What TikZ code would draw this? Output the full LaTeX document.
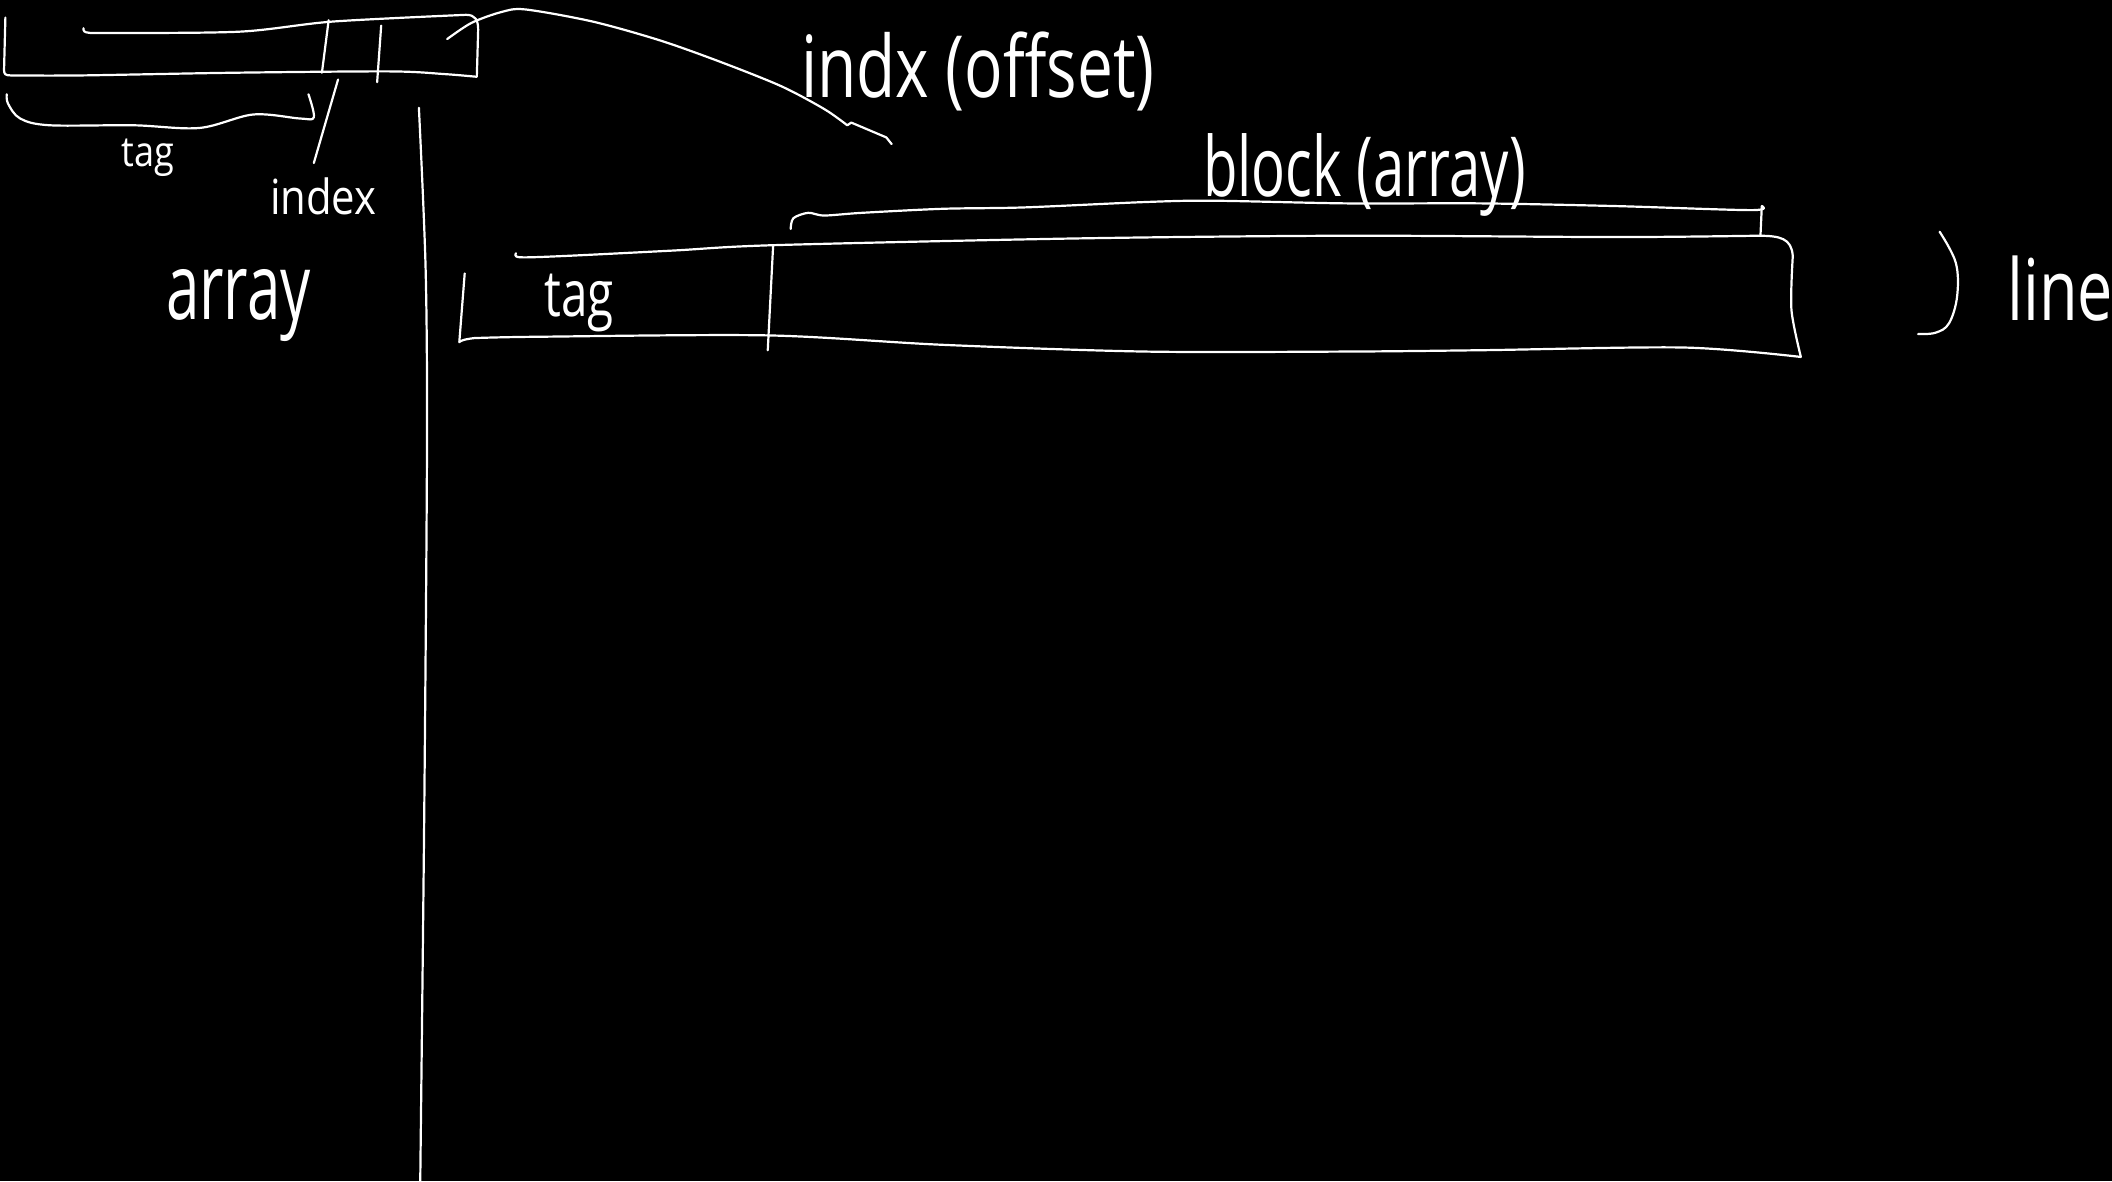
\documentclass[tikz,border=0pt]{standalone}
\usepackage{fontspec}
\setmainfont{Open Sans}
\begin{document}
\begin{tikzpicture}[x=0.6735pt,y=-0.6735pt,
  ink/.style={draw=white,line width=1.1pt,line cap=round,line join=round},
  hand/.style={text=white,inner sep=0pt,anchor=center}]
% chalkboard
\fill[black] (0,0) rectangle (1568,877);
\useasboundingbox (0,0) rectangle (1568,877);

% ---- address record: tag | index | offset ----
\draw[ink] plot[smooth,tension=0.5] coordinates {(62,21) (64,24) (80,24.5) (178,23.5) (247,16) (346,11)}
  .. controls (353,11) and (355,15) .. (355,22) -- (354,57)
  plot[smooth,tension=0.5] coordinates {(354,57) (330,55) (289,53) (173,54) (60,56) (8,56)}
  .. controls (4,56) and (3,55) .. (3,52) -- (4,13);
\draw[ink] (244,15) -- (239,54);
\draw[ink] (283,19) -- (280,61);
\coordinate (offsrc) at (332,29);
\coordinate (tagsep) at (251,59);

% brace under the tag bits
\draw[ink] plot[smooth,tension=0.55] coordinates {(5,70) (6,77) (15,88) (37,93) (99,93) (148,95) (188,85) (223,88) (233,87) (229,70)};
\node[hand,font=\fontsize{19}{22}\selectfont] (tagtop) at (110,117) {\scalebox{0.95}[1.1]{tag}};

% pointer to the index bits
\node[hand,font=\fontsize{22}{26}\selectfont] (idx) at (240,146) {\scalebox{0.95}[1.1]{index}};
\coordinate (idxend) at (233,121);
\draw[ink] (tagsep) -- (idxend);

% pointer to the offset bits
\node[hand,font=\fontsize{39}{44}\selectfont] (offs) at (726,53) {\scalebox{0.82}[1.1]{indx (offset)}};
\coordinate (offend) at (662,107);
\draw[ink] plot[smooth,tension=0.5] coordinates {(offsrc) (350,17) (372,9) (390,7) (440,16) (490,30) (535,46) (580,64) (612,81) (629,93)}
  -- (632,91) -- (658,102) -- (offend);

% ---- array label and divider ----
\node[hand,font=\fontsize{40}{44}\selectfont] (arr) at (177,227) {\scalebox{0.75}[1.15]{array}};
\draw[ink] plot[smooth,tension=0.5] coordinates {(311,80) (316,200) (317,330) (315,600) (312,877)};

% ---- cache line: tag | block ----
\draw[ink] plot[smooth,tension=0.5] coordinates {(383,188) (386,191) (420,190) (500,186) (575,182) (800,177) (1000,175) (1200,176) (1305,175)}
  .. controls (1322,175) and (1330,177) .. (1331,190)
  plot[smooth,tension=0.5] coordinates {(1331,190) (1330,230) (1337,265)}
  plot[smooth,tension=0.5] coordinates {(1337,265) (1250,258) (1100,260) (1000,261) (850,261) (700,256) (570,249) (400,250) (352,251)}
  .. controls (344,252) and (342,253) .. (341,254) -- (345,203);
\draw[ink] (574,182) -- (570,260);
\node[hand,font=\fontsize{28}{32}\selectfont] (tagbox) at (430,225) {\scalebox{0.85}[1.15]{tag}};

% brace over the block
\draw[ink] plot[smooth,tension=0.5] coordinates {(587,170) (589,162) (600,158) (612,160) (640,158) (700,155) (760,154) (850,150) (900,149) (1000,151) (1100,151) (1200,153) (1300,156) (1308,153)};
\draw[ink] (1308,153) -- (1307,175);
\node[hand,font=\fontsize{37}{42}\selectfont] (blk) at (1013,130) {\scalebox{0.76}[1.12]{block (array)}};

% bracket for the line height
\draw[ink] plot[smooth,tension=0.6] coordinates {(1440,172) (1452,195) (1453,220) (1447,240) (1437,247) (1424,248)};
\node[hand,font=\fontsize{37}{42}\selectfont,anchor=west] (ln) at (1490,214) {\scalebox{0.85}[1.15]{line}};
\end{tikzpicture}
\end{document}
